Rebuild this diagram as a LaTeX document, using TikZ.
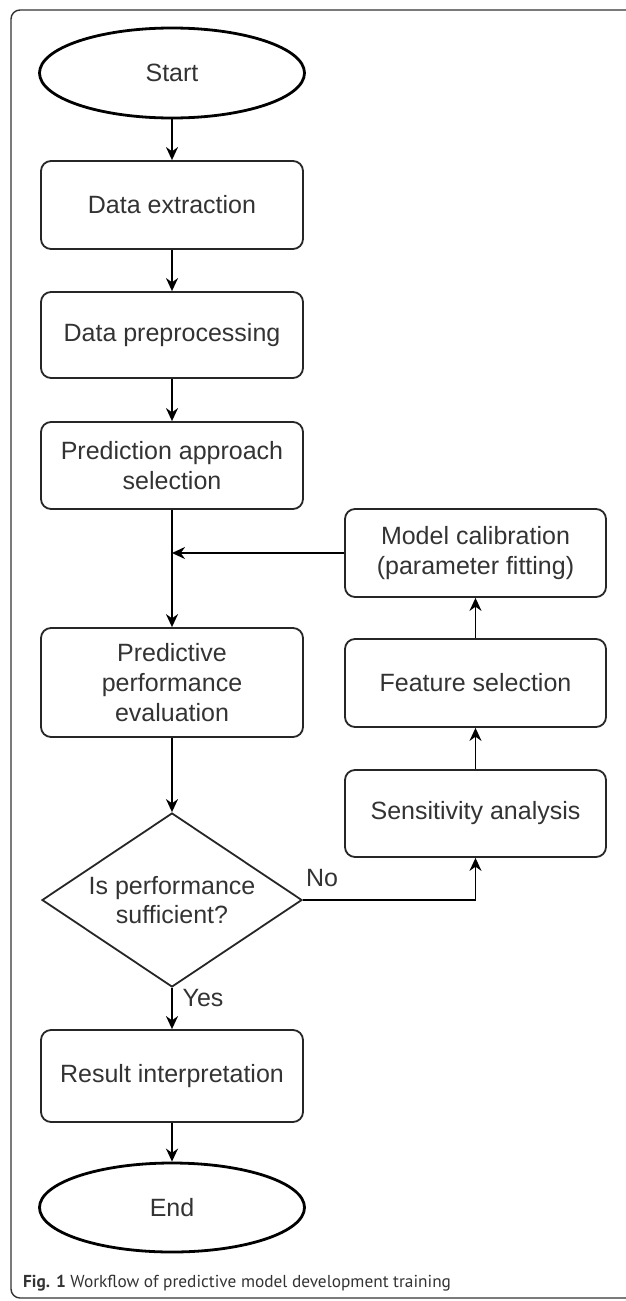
\documentclass[tikz,border=0pt]{standalone}
\usepackage{fontspec}
\setmainfont{Liberation Sans}
\newfontfamily\capfont{PT Sans}
\usetikzlibrary{shapes.geometric,arrows.meta}
\begin{document}
\begin{tikzpicture}[x=1pt,y=-1pt,
  txt/.style={font=\fontsize{25}{30}\selectfont, text=black!80},
  box/.style={txt, draw=black!85, line width=1.8pt, rounded corners=10pt,
    minimum width=262pt, minimum height=88pt, align=center, inner sep=0pt},
  term/.style={txt, ellipse, draw=black, line width=2.8pt,
    minimum width=265pt, minimum height=90pt, inner sep=0pt},
  dec/.style={txt, diamond, draw=black!85, line width=1.8pt, aspect=1.494,
    minimum width=260pt, minimum height=174pt, inner sep=0pt, align=center,
    font=\fontsize{25}{29}\selectfont},
  arr/.style={-{Stealth[length=13pt,width=12pt]}, line width=1.9pt, draw=black},
  lbl/.style={txt, inner sep=0pt}
]
\useasboundingbox (0,0) rectangle (625,1301);
% frame
\draw[black!80, line width=1.4pt, rounded corners=9pt]
  (630,10) -- (11,10) -- (11,1298) -- (630,1298);

\node[term] (start) at (172,73) {Start};
\node[box] (ext) at (172,205) {Data extraction};
\node[box, minimum height=86pt] (pre) at (172,335) {Data preprocessing};
\node[box, minimum height=87pt] (app) at (172,465.5) {Prediction approach\\selection};
\node[box, minimum height=109pt] (perf) at (172,682.5) {Predictive\\performance\\evaluation};
\node[dec] (suff) at (172,900) {Is performance\\sufficient?};
\node[box, minimum height=92pt] (res) at (172,1076) {Result interpretation};
\node[term, minimum height=89pt] (end) at (172,1207.5) {End};

\node[box, minimum width=261pt] (cal) at (475.5,553) {Model calibration\\(parameter fitting)};
\node[box, minimum width=261pt] (feat) at (475.5,683) {Feature selection};
\node[box, minimum width=261pt, minimum height=87pt] (sens) at (475.5,813.5) {Sensitivity analysis};

\coordinate (join) at (172,553);

\draw[arr] (start) -- (ext);
\draw[arr] (ext) -- (pre);
\draw[arr] (pre) -- (app);
\draw[arr] (app) -- (perf);
\draw[arr] (cal.west) -- (join);
\draw[arr] (perf) -- (suff);
\draw[arr] (suff.south) -- (res.north);
\draw[arr] (res) -- (end);
\draw[arr] (suff.east) -| (sens.south);
\draw[arr] (sens) -- (feat);
\draw[arr] (feat) -- (cal);

\node[lbl] (no) at (322,878) {No};
\node[lbl] (yes) at (203,998) {Yes};

\node[anchor=west, inner sep=0pt, text=black!80] (cap) at (23,1283)
  {\capfont\fontsize{17.3}{20}\selectfont\textbf{Fig. 1} Workflow of predictive model development training};
\end{tikzpicture}
\end{document}
